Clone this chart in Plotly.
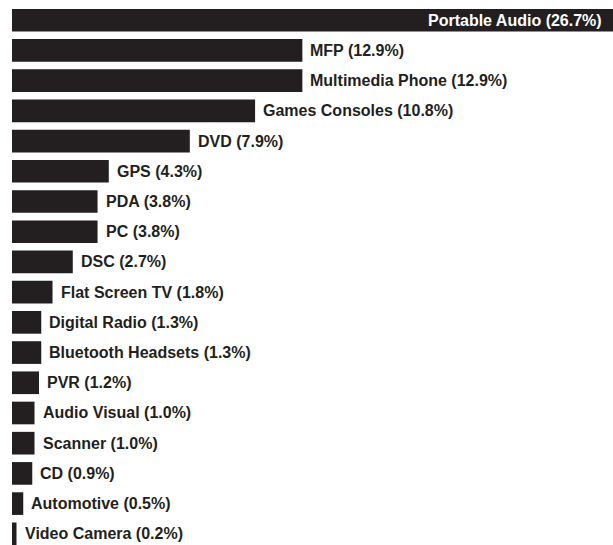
import plotly.graph_objects as go

categories = ["Portable Audio", "MFP", "Multimedia Phone", "Games Consoles", "DVD", "GPS",
              "PDA", "PC", "DSC", "Flat Screen TV", "Digital Radio", "Bluetooth Headsets",
              "PVR", "Audio Visual", "Scanner", "CD", "Automotive", "Video Camera"]
values = [26.7, 12.9, 12.9, 10.8, 7.9, 4.3, 3.8, 3.8, 2.7, 1.8, 1.3, 1.3, 1.2, 1.0, 1.0, 0.9, 0.5, 0.2]
labels = [f"{c} ({v:.1f}%)" for c, v in zip(categories, values)]

DARK = "#231f20"
idx = list(range(len(categories)))

fig = go.Figure()
fig.add_trace(go.Bar(
    y=idx, x=values, orientation="h",
    marker=dict(color=DARK, line=dict(width=0)),
    hoverinfo="skip",
))

FONT = "Liberation Sans, Arial"
annotations = []
for i, (v, lab) in enumerate(zip(values, labels)):
    if i == 0:
        annotations.append(dict(x=v, y=i, text="<b>" + lab + "</b>", showarrow=False, xanchor="right",
                                yanchor="middle", xshift=-9,
                                font=dict(color="white", size=16, family=FONT)))
    else:
        annotations.append(dict(x=v, y=i, text="<b>" + lab + "</b>", showarrow=False, xanchor="left",
                                yanchor="middle", xshift=6,
                                font=dict(color=DARK, size=16, family=FONT)))

fig.update_layout(
    width=613, height=545,
    margin=dict(l=12, r=0, t=0, b=0),
    paper_bgcolor="white", plot_bgcolor="white",
    bargap=0.25, showlegend=False,
    annotations=annotations,
    xaxis=dict(range=[0, 26.7], visible=False, fixedrange=True),
    yaxis=dict(range=[17.37, -0.67], visible=False, fixedrange=True),
)

fig.write_html("out.html")
